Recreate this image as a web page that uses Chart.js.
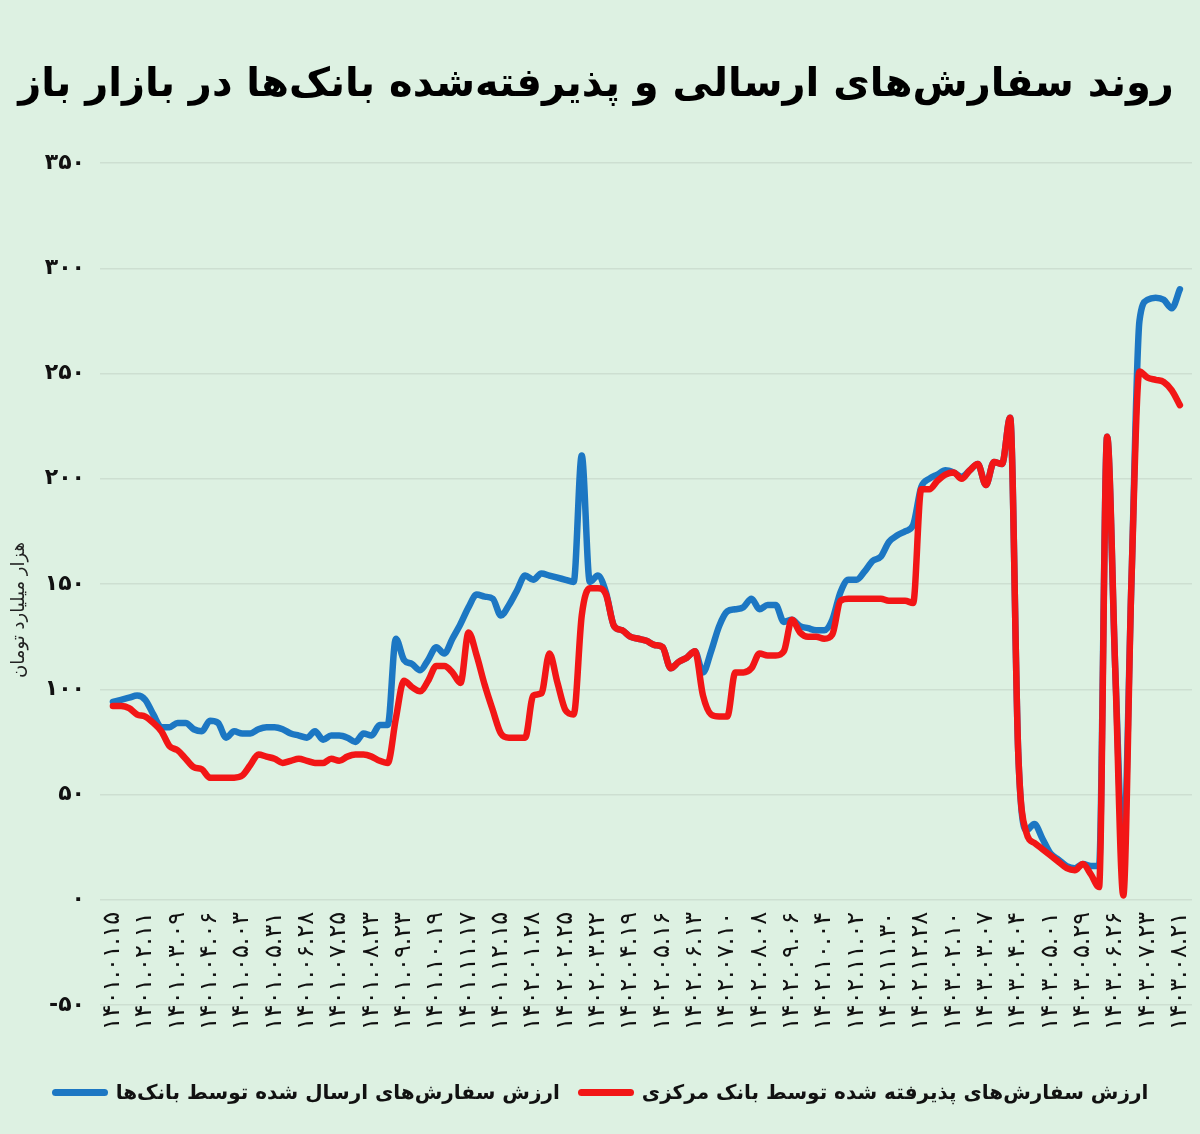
<!DOCTYPE html>
<html lang="fa">
<head>
<meta charset="utf-8">
<title>روند سفارش‌های ارسالی و پذیرفته‌شده بانک‌ها در بازار باز</title>
<script src="https://cdn.jsdelivr.net/npm/chart.js@4.4.1/dist/chart.umd.min.js"></script>
<style>
    html, body { margin: 0; padding: 0; background: #ddf1e2; }
    #wrap { position: relative; width: 1200px; height: 1134px; }
    #legend {
        position: absolute; left: 0; top: 1080px; width: 1200px;
        display: flex; justify-content: center; direction: rtl;
        font-family: 'DejaVu Sans'; font-weight: bold; font-size: 20px; color: #111;
    }
    .item { display: flex; align-items: center; margin: 0 9px; }
    .mark { display: inline-block; width: 56px; height: 7px; border-radius: 4px; margin-right: 8px; }
</style>
</head>
<body>
<div id="wrap">
    <canvas id="chart" width="1200" height="1134"></canvas>
    <div id="legend"></div>
</div>
<script>
// Chart text
const TITLE = 'روند سفارش‌های ارسالی و پذیرفته‌شده بانک‌ها در بازار باز';
const Y_TITLE = 'هزار میلیارد تومان';
const SENT_LABEL = 'ارزش سفارش‌های ارسال شده توسط بانک‌ها';
const ACCEPTED_LABEL = 'ارزش سفارش‌های پذیرفته شده توسط بانک مرکزی';

const BLUE = '#1c77c3';
const RED = '#f21616';

// Date labels, one every 4 weekly points
const dateLabels = [
    '1401.01.15', '1401.02.11', '1401.03.09', '1401.04.06', '1401.05.03', '1401.05.31',
    '1401.06.28', '1401.07.25', '1401.08.23', '1401.09.23', '1401.10.19', '1401.11.17',
    '1401.12.15', '1402.01.28', '1402.02.25', '1402.03.22', '1402.04.19', '1402.05.16',
    '1402.06.13', '1402.07.10', '1402.08.08', '1402.09.06', '1402.10.04', '1402.11.02',
    '1402.11.30', '1402.12.28', '1403.02.10', '1403.03.07', '1403.04.04', '1403.05.01',
    '1403.05.29', '1403.06.26', '1403.07.23', '1403.08.21'
];
const LABEL_STEP = 4;

// Orders sent by banks (thousand billion toman)
const sent = [
    94, 95, 96, 97, 95, 88, 82, 82, 84, 84,
    81, 80, 85, 84, 77, 80, 79, 79, 81, 82,
    82, 81, 79, 78, 77, 80, 76, 78, 78, 77,
    75, 79, 78, 83, 83, 124, 114, 112, 109, 114,
    120, 117, 124, 131, 139, 145, 144, 143, 135, 140,
    147, 154, 152, 155, 154, 153, 152, 151, 211, 151,
    154, 146, 130, 128, 125, 124, 123, 121, 120, 110,
    113, 115, 118, 108, 118, 130, 137, 138, 139, 143,
    138, 140, 140, 132, 133, 130, 129, 128, 128, 133,
    146, 152, 152, 156, 161, 163, 170, 173, 175, 178,
    196, 200, 202, 204, 203, 201, 204, 207, 197, 208,
    207, 229, 70, 33, 36, 29, 22, 19, 16, 15,
    17, 16, 16, 220, 110, 22, 150, 275, 285, 286,
    285, 281, 290
];

// Orders accepted by the central bank
const accepted = [
    92, 92, 91, 88, 87, 84, 80, 73, 71, 67,
    63, 62, 58, 58, 58, 58, 59, 64, 69, 68,
    67, 65, 66, 67, 66, 65, 65, 67, 66, 68,
    69, 69, 68, 66, 65, 86, 104, 101, 99, 104,
    111, 111, 108, 103, 127, 116, 102, 90, 79, 77,
    77, 77, 97, 98, 117, 103, 90, 88, 135, 148,
    148, 145, 130, 128, 125, 124, 123, 121, 120, 110,
    113, 115, 118, 97, 88, 87, 87, 108, 108, 110,
    117, 116, 116, 118, 133, 127, 125, 125, 124, 126,
    142, 143, 143, 143, 143, 143, 142, 142, 142, 141,
    195, 195, 199, 202, 203, 200, 204, 207, 197, 208,
    207, 229, 70, 32, 27, 24, 21, 18, 15, 14,
    17, 12, 6, 220, 110, 2, 150, 251, 248, 247,
    246, 242, 235
];

const faDigits = '۰۱۲۳۴۵۶۷۸۹';
function toFa(s) {
    return String(s).replace(/[0-9]/g, d => faDigits[+d]);
}

const FONT = 'DejaVu Sans';

// Vertical unit label on the left side
const yTitlePlugin = {
    id: 'yTitle',
    afterDraw(chart) {
        const ctx = chart.ctx;
        ctx.save();
        ctx.translate(19, 610);
        ctx.rotate(-Math.PI / 2);
        ctx.font = '18px ' + FONT;
        ctx.fillStyle = '#222';
        ctx.textAlign = 'center';
        ctx.textBaseline = 'middle';
        ctx.fillText(Y_TITLE, 0, 0);
        ctx.restore();
    }
};

const chart = new Chart(document.getElementById('chart'), {
    type: 'line',
    data: {
        labels: sent.map((_, i) => i),
        datasets: [
            { label: ACCEPTED_LABEL, data: accepted, borderColor: RED, backgroundColor: RED, order: 0 },
            { label: SENT_LABEL, data: sent, borderColor: BLUE, backgroundColor: BLUE, order: 1 }
        ]
    },
    plugins: [yTitlePlugin],
    options: {
        responsive: false,
        animation: false,
        layout: { padding: { top: 0, right: 8, bottom: 129, left: 0 } },
        elements: {
            point: { radius: 0 },
            line: {
                borderWidth: 6.5,
                cubicInterpolationMode: 'monotone',
                borderCapStyle: 'round',
                borderJoinStyle: 'round'
            }
        },
        plugins: {
            legend: { display: false },
            tooltip: { enabled: false },
            title: {
                display: true,
                text: TITLE,
                color: '#000',
                font: { family: FONT, size: 40, weight: 'bold' },
                padding: { top: 62, bottom: 53 }
            }
        },
        scales: {
            x: {
                type: 'linear',
                min: -1.6,
                max: 133.5,
                position: { y: 0 },
                grid: { display: false, drawTicks: false },
                border: { display: false },
                afterBuildTicks: scale => {
                    scale.ticks = dateLabels.map((_, k) => ({ value: k * LABEL_STEP }));
                },
                afterFit: scale => {
                    scale.height = 0;
                    scale.paddingLeft = 0;
                    scale.paddingRight = 0;
                },
                ticks: {
                    autoSkip: false,
                    minRotation: 90,
                    maxRotation: 90,
                    padding: 12,
                    color: '#111',
                    font: { family: FONT, size: 24 },
                    callback: v => toFa(dateLabels[Math.round(v / LABEL_STEP)])
                }
            },
            y: {
                min: -50,
                max: 350,
                grid: { color: '#cddfd1', drawTicks: false, lineWidth: 1.5 },
                border: { display: false },
                afterFit: scale => { scale.width = 100; },
                ticks: {
                    stepSize: 50,
                    padding: 15,
                    color: '#111',
                    font: { family: FONT, size: 22, weight: 'bold' },
                    callback: v => toFa(v)
                }
            }
        }
    }
});

// Legend (right to left: accepted first, then sent)
const legend = document.getElementById('legend');
[[ACCEPTED_LABEL, RED], [SENT_LABEL, BLUE]].forEach(([text, color]) => {
    const item = document.createElement('div');
    item.className = 'item';
    const label = document.createElement('span');
    label.textContent = text;
    const mark = document.createElement('span');
    mark.className = 'mark';
    mark.style.background = color;
    item.appendChild(label);
    item.appendChild(mark);
    legend.appendChild(item);
});
</script>
</body>
</html>
